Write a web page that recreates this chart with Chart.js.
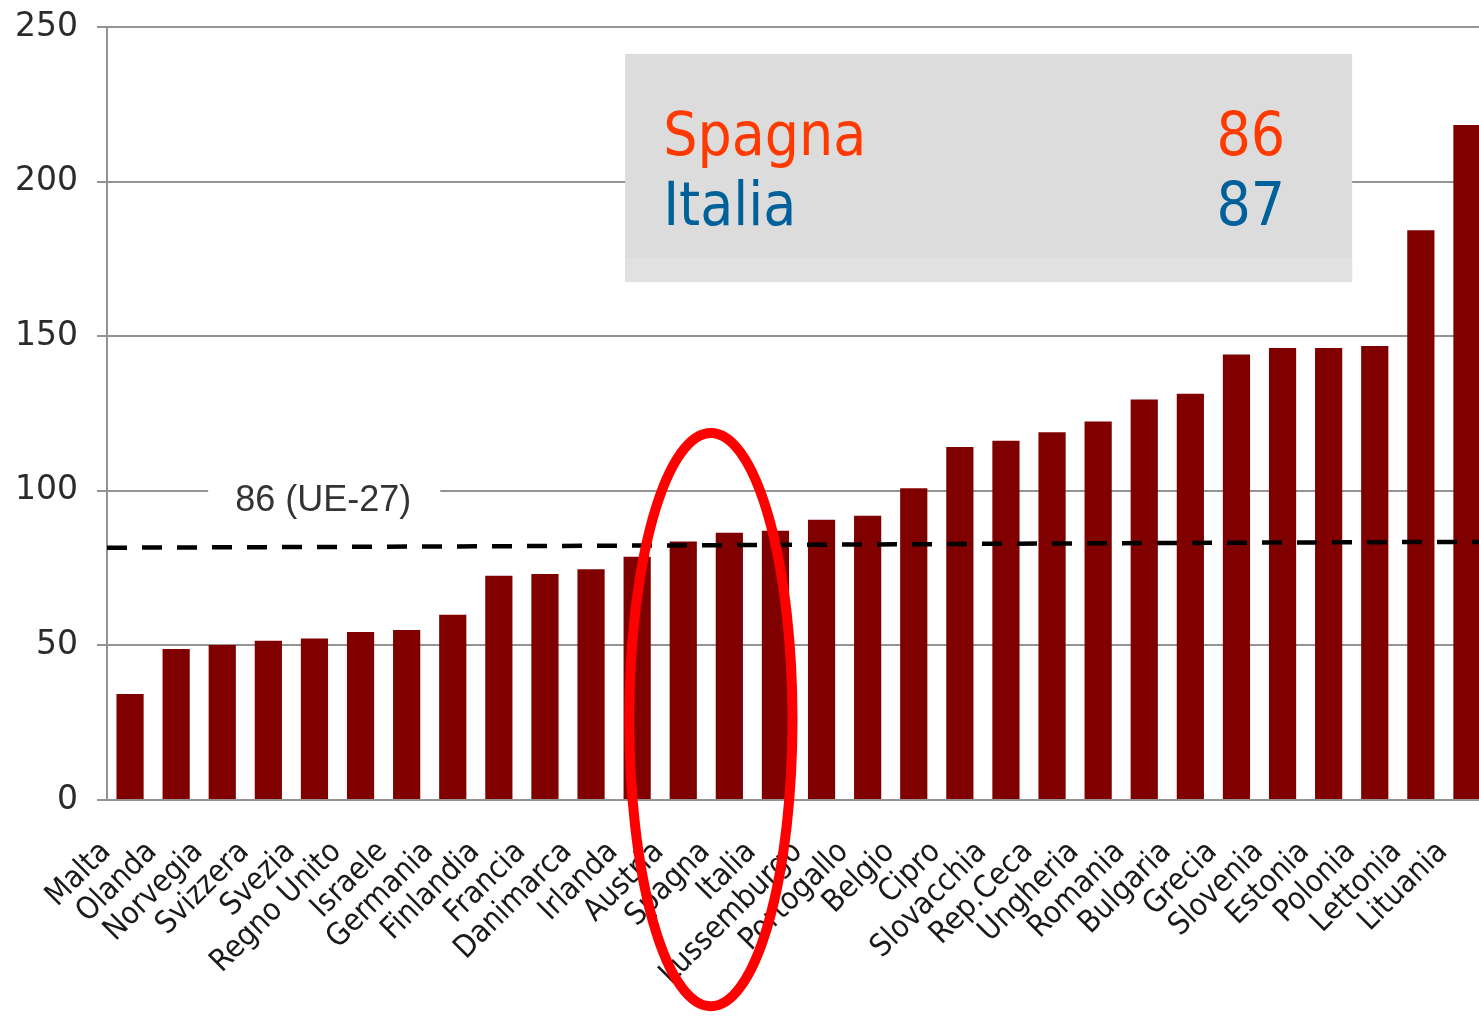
<!DOCTYPE html>
<html>
<head>
<meta charset="utf-8">
<title>Confronto paesi</title>
<script src="https://cdn.jsdelivr.net/npm/chart.js@4.4.1/dist/chart.umd.min.js"></script>
<style>
  html, body { margin: 0; padding: 0; background: #fff; overflow: hidden; }
  canvas { display: block; }
</style>
</head>
<body>
<canvas id="grafico" width="1490" height="1019"></canvas>
<script>
var paesi = ["Malta", "Olanda", "Norvegia", "Svizzera", "Svezia", "Regno Unito", "Israele",
    "Germania", "Finlandia", "Francia", "Danimarca", "Irlanda", "Austria", "Spagna", "Italia",
    "Lussemburgo", "Portogallo", "Belgio", "Cipro", "Slovacchia", "Rep.Ceca", "Ungheria",
    "Romania", "Bulgaria", "Grecia", "Slovenia", "Estonia", "Polonia", "Lettonia", "Lituania"];
var valori = [34.3, 48.8, 50.1, 51.5, 52.2, 54.3, 55.0, 59.9, 72.5, 73.1, 74.6, 78.7, 83.6, 86.4, 87.1,
    90.6, 91.9, 100.8, 114.2, 116.2, 118.9, 122.4, 129.5, 131.4, 144.1, 146.2, 146.2, 146.8, 184.3, 218.3];

// media UE-27 (linea tratteggiata)
var ueX = [-0.5, 3.5, 8.5, 12.5, 15.5, 20.5, 25.5, 29.5];
var ueY = [81.6, 81.8, 82.1, 82.4, 82.6, 83.0, 83.3, 83.5];
var ueLabel = "86 (UE-27)";

var yTicks = [0, 50, 100, 150, 200, 250];

var boxPaesi = ["Spagna", "Italia"];
var boxValori = ["86", "87"];
var boxColori = ["#ff3a00", "#00619a"];

var grigio = "#939393";

function ptsUE() {
    var out = [];
    for (var i = 0; i < ueX.length; i++) {
        out.push({ x: ueX[i], y: ueY[i] });
    }
    return out;
}

var annotazioni = {
    id: "annotazioni",
    beforeDatasetsDraw: function(chart) {
        var ctx = chart.ctx;
        var sx = chart.scales.x, sy = chart.scales.y;
        // etichetta media UE su fondo bianco
        var cx = sx.getPixelForValue(4.19);
        var cy = sy.getPixelForValue(96.8);
        ctx.save();
        ctx.font = "36px 'Liberation Sans', Arial, sans-serif";
        var w = ctx.measureText(ueLabel).width;
        ctx.fillStyle = "#fff";
        ctx.fillRect(cx - w / 2 - 27, cy - 22, w + 56, 44);
        ctx.fillStyle = "#333";
        ctx.textAlign = "center";
        ctx.textBaseline = "middle";
        ctx.fillText(ueLabel, cx, cy);
        ctx.restore();
    },
    afterDatasetsDraw: function(chart) {
        var ctx = chart.ctx;
        var sx = chart.scales.x, sy = chart.scales.y;
        var x0 = sx.getPixelForValue(10.74), x1 = sx.getPixelForValue(26.51);
        var y0 = sy.getPixelForValue(241.3), y1 = sy.getPixelForValue(167.5);
        ctx.save();
        ctx.fillStyle = "#dcdcdc";
        ctx.fillRect(x0, y0, x1 - x0, y1 - y0);
        ctx.fillStyle = "#e1e1e1";
        ctx.fillRect(x0, y1 - 24, x1 - x0, 24);
        ctx.font = "60px 'DejaVu Sans Condensed', 'DejaVu Sans', sans-serif";
        ctx.textBaseline = "alphabetic";
        for (var i = 0; i < boxPaesi.length; i++) {
            var base = y0 + 101 + i * 70;
            ctx.fillStyle = boxColori[i];
            ctx.textAlign = "left";
            ctx.fillText(boxPaesi[i], x0 + 38, base);
            ctx.textAlign = "right";
            ctx.fillText(boxValori[i], x0 + 660, base);
        }
        ctx.restore();
    },
    afterDraw: function(chart) {
        var ctx = chart.ctx;
        var sx = chart.scales.x, sy = chart.scales.y;
        var cx = sx.getPixelForValue(12.6);
        var cy = sy.getPixelForValue(26);
        var rx = sx.getPixelForValue(12.6 + 1.77) - cx;
        var ry = cy - sy.getPixelForValue(26 + 92.7);
        ctx.save();
        ctx.strokeStyle = "#ff0000";
        ctx.lineWidth = 10;
        ctx.beginPath();
        ctx.ellipse(cx, cy, rx, ry, 0, 0, Math.PI * 2);
        ctx.stroke();
        ctx.restore();
    }
};

new Chart(document.getElementById("grafico"), {
    type: "bar",
    data: {
        labels: paesi,
        datasets: [{
            type: "line",
            label: "UE-27",
            data: ptsUE(),
            xAxisID: "x2",
            borderColor: "#000",
            borderWidth: 4.5,
            borderDash: [20, 15],
            pointRadius: 0,
            tension: 0,
            order: 0
        }, {
            label: "Paesi",
            data: valori,
            backgroundColor: "#800000",
            barPercentage: 0.59,
            categoryPercentage: 1,
            grouped: false,
            order: 1
        }]
    },
    plugins: [annotazioni],
    options: {
        responsive: false,
        animation: false,
        layout: { padding: { top: 27, right: 0, bottom: 0, left: 0 } },
        plugins: {
            legend: { display: false },
            tooltip: { enabled: false }
        },
        scales: {
            x: {
                grid: { display: false },
                border: { display: false },
                ticks: {
                    autoSkip: false,
                    minRotation: 45,
                    maxRotation: 45,
                    padding: 26,
                    labelOffset: -24,
                    color: "#1a1a1a",
                    font: { family: "'DejaVu Sans Condensed', 'DejaVu Sans', sans-serif", size: 31 }
                },
                afterFit: function(scale) {
                    scale.height = 219;
                    scale.paddingLeft = 0;
                    scale.paddingRight = 0;
                }
            },
            x2: {
                type: "linear",
                display: false,
                offset: false,
                grid: { offset: false },
                bounds: "data",
                min: -0.5,
                max: 29.5
            },
            y: {
                min: 0,
                max: 250,
                afterBuildTicks: function(scale) {
                    scale.ticks = yTicks.map(function(v) { return { value: v }; });
                },
                grid: { color: grigio, lineWidth: 2, tickLength: 10 },
                border: { display: true, color: grigio, width: 2 },
                ticks: {
                    padding: 19,
                    color: "#2b2b2b",
                    font: { family: "'DejaVu Sans', Verdana, sans-serif", size: 33 }
                },
                afterFit: function(scale) {
                    scale.width = 107;
                    scale.paddingTop = 0;
                    scale.paddingBottom = 0;
                }
            }
        }
    }
});
</script>
</body>
</html>
